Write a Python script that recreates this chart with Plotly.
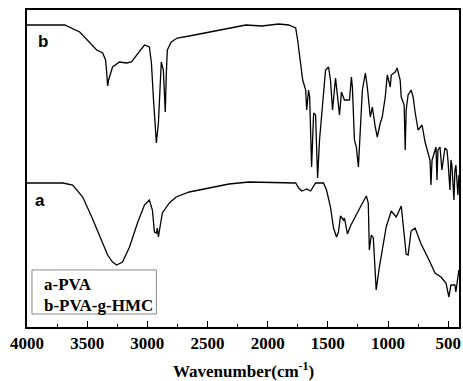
import plotly.graph_objects as go

# Curve b: PVA-g-HMC (wavenumber cm-1, transmittance a.u.)
wn_b = [4000, 3851, 3686, 3562, 3479, 3421, 3371, 3347, 3338, 3330, 3322, 3305, 3289, 3231, 3173, 3132,
        3090, 3024, 2983, 2966, 2950, 2933, 2925, 2908, 2892, 2884, 2867, 2859, 2851, 2842, 2834, 2801,
        2751, 2652, 2528, 2404, 2321, 2181, 2048, 1908, 1825, 1767, 1751, 1726, 1709, 1684, 1676, 1660,
        1651, 1635, 1618, 1602, 1585, 1569, 1552, 1536, 1519, 1494, 1478, 1461, 1436, 1428, 1403, 1387,
        1362, 1345, 1320, 1304, 1296, 1279, 1263, 1246, 1230, 1213, 1188, 1172, 1147, 1130, 1106, 1089,
        1064, 1048, 1023, 1006, 981, 973, 940, 924, 899, 890, 866, 857, 849, 833, 808, 791, 775, 750,
        717, 692, 667, 651, 643, 634, 626, 601, 593, 585, 568, 552, 527, 510, 502, 485, 477, 469, 452,
        444, 436, 419, 411]
t_b = [302, 302, 302, 295, 285, 277, 274, 267, 255, 241, 247, 255, 260, 265, 264, 265,
       272, 282, 280, 264, 230, 200, 184, 204, 250, 265, 257, 230, 215, 254, 277, 285,
       289, 291, 294, 297, 299, 302, 301, 303, 302, 299, 287, 260, 247, 237, 217, 237,
       230, 160, 214, 212, 149, 187, 214, 230, 257, 260, 247, 217, 249, 240, 212, 235,
       227, 227, 227, 250, 240, 187, 180, 160, 194, 237, 254, 240, 210, 220, 200, 190,
       204, 210, 230, 252, 240, 252, 255, 259, 247, 230, 222, 177, 217, 232, 237, 230, 215, 197,
       202, 185, 174, 167, 142, 167, 170, 180, 147, 177, 180, 157, 179, 177, 167, 137, 167, 162, 127,
       157, 162, 132, 152]

# Curve a: PVA
wn_a = [4000, 3702, 3620, 3537, 3462, 3396, 3330, 3289, 3256, 3206, 3148, 3082, 3024, 2983, 2958, 2941,
        2925, 2917, 2908, 2892, 2875, 2817, 2760, 2652, 2487, 2321, 2156, 1908, 1767, 1742, 1717, 1693,
        1676, 1643, 1602, 1536, 1511, 1478, 1453, 1428, 1412, 1395, 1370, 1362, 1337, 1312, 1263, 1221,
        1180, 1164, 1155, 1139, 1122, 1106, 1098, 1073, 1040, 1015, 973, 932, 890, 874, 849, 833, 808,
        775, 725, 667, 609, 560, 518, 494, 477, 444, 436, 419, 411]
t_a = [144, 144, 142, 130, 110, 90, 72, 65, 62, 65, 80, 104, 122, 127, 117, 95,
       94, 99, 90, 102, 114, 124, 130, 135, 139, 143, 145, 144, 144, 139, 136, 137,
       138, 136, 144, 144, 137, 120, 99, 90, 95, 111, 107, 109, 93, 101, 113, 122,
       131, 124, 77, 92, 89, 57, 37, 59, 84, 100, 116, 110, 121, 102, 73, 72, 96,
       99, 83, 69, 54, 50, 44, 30, 42, 42, 35, 50, 57]

x_ticks = [4000, 3500, 3000, 2500, 2000, 1500, 1000, 500]
legend_lines = ["a-PVA", "b-PVA-g-HMC"]

fig = go.Figure()
fig.add_trace(go.Scatter(x=wn_a, y=t_a, mode="lines", line=dict(color="black", width=1.3), showlegend=False))
fig.add_trace(go.Scatter(x=wn_b, y=t_b, mode="lines", line=dict(color="black", width=1.3), showlegend=False))

serif = "Liberation Serif, Times New Roman, serif"
fig.update_layout(
    width=463, height=381,
    margin=dict(l=27, r=2, t=10, b=54),
    plot_bgcolor="white", paper_bgcolor="white",
    xaxis=dict(range=[4000, 410], tickvals=x_ticks, ticks="inside", ticklen=6, tickwidth=1.3,
               tickcolor="black", showline=True, linecolor="black", linewidth=1.5, mirror=True,
               showgrid=False, zeroline=False,
               tickfont=dict(family=serif, size=17, color="black", weight="bold"),
               minor=dict(dtick=250, tick0=0, ticks="inside", ticklen=3, tickcolor="black", tickwidth=1.2)),
    yaxis=dict(range=[0, 317], showticklabels=False, ticks="", showline=True, linecolor="black",
               linewidth=1.5, mirror=True, showgrid=False, zeroline=False),
)

fig.add_annotation(text="Wavenumber(cm<sup>-1</sup>)", xref="paper", yref="paper", x=0.5, y=-0.135,
                   showarrow=False, xanchor="center", yanchor="middle",
                   font=dict(family=serif, size=17, color="black", weight="bold"))

fig.add_annotation(text="b", xref="paper", yref="paper", x=0.02, y=0.9, showarrow=False,
                   xanchor="left", yanchor="middle",
                   font=dict(family="Liberation Sans, Arial", size=17, color="black", weight="bold"))
fig.add_annotation(text="a", xref="paper", yref="paper", x=0.013, y=0.4, showarrow=False,
                   xanchor="left", yanchor="middle",
                   font=dict(family="Liberation Sans, Arial", size=17, color="black", weight="bold"))

fig.add_shape(type="rect", xref="paper", yref="paper", x0=0.0115, x1=0.2995, y0=0.041, y1=0.18,
              line=dict(color="#888888", width=1), fillcolor="white")
fig.add_annotation(text=legend_lines[0], xref="paper", yref="paper", x=0.035, y=0.1325, showarrow=False,
                   xanchor="left", yanchor="middle",
                   font=dict(family=serif, size=17, color="black", weight="bold"))
fig.add_annotation(text=legend_lines[1], xref="paper", yref="paper", x=0.035, y=0.069, showarrow=False,
                   xanchor="left", yanchor="middle",
                   font=dict(family=serif, size=17, color="black", weight="bold"))

fig.write_html("out.html")
